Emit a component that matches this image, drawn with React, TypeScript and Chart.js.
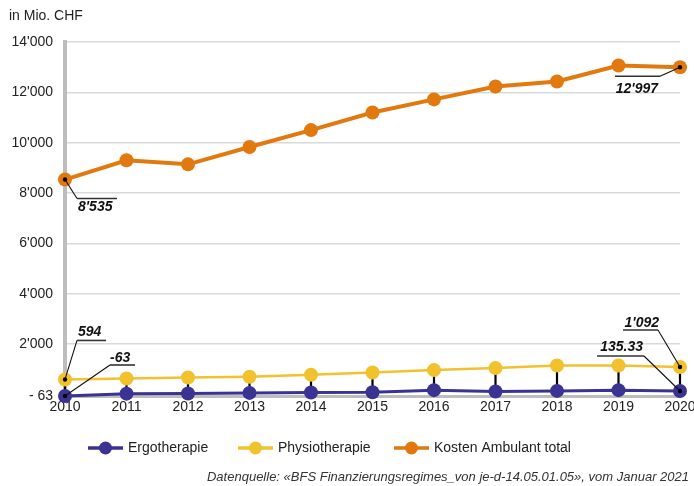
import React, { useEffect, useRef } from "react";
import { Chart, registerables } from "chart.js";

Chart.register(...registerables);

const years = ["2010", "2011", "2012", "2013", "2014", "2015", "2016", "2017", "2018", "2019", "2020"];
const ergo = [-63, 30, 35, 60, 75, 85, 170, 115, 140, 170, 135.33];
const physio = [594, 630, 670, 700, 780, 870, 965, 1045, 1150, 1150, 1092];
const kosten = [8535, 9300, 9140, 9830, 10500, 11200, 11720, 12230, 12430, 13065, 12997];
const yTicks = [-63, 2000, 4000, 6000, 8000, 10000, 12000, 14000];
const seriesNames = ["Ergotherapie", "Physiotherapie", "Kosten Ambulant total"];
const unitLabel = "in Mio. CHF";
const sourceNote = "Datenquelle: «BFS Finanzierungsregimes_von je-d-14.05.01.05», vom Januar 2021";

const COLORS = ["#3b3393", "#f2c12e", "#e2790f"];
const FONT = "'Liberation Sans', Arial, sans-serif";

function fmt(v: number): string {
  if (!Number.isInteger(v)) return v.toFixed(2);
  const s = Math.abs(v).toString().replace(/\B(?=(\d{3})+(?!\d))/g, "'");
  return (v < 0 ? "-" : "") + s;
}

const labelDefs = [
  { ds: 2, i: 0, ex: 12, ey: 19, hx: 52, tx: 13, ty: 28, align: "left" },
  { ds: 2, i: 10, ex: -20, ey: 9, hx: -65, tx: -22, ty: 22, align: "right" },
  { ds: 1, i: 0, ex: 12, ey: -39, hx: 41, tx: 13, ty: -47, align: "left" },
  { ds: 0, i: 0, ex: 45, ey: -31, hx: 70, tx: 45, ty: -38, align: "left" },
  { ds: 1, i: 10, ex: -22, ey: -37, hx: -57, tx: -21, ty: -44, align: "right" },
  { ds: 0, i: 10, ex: -36, ey: -35, hx: -83, tx: -37, ty: -44, align: "right" },
];

const hiLoPlugin = {
  id: "hiLo",
  beforeDatasetsDraw(chart: any) {
    const ctx = chart.ctx;
    const a = chart.getDatasetMeta(0).data;
    const b = chart.getDatasetMeta(1).data;
    ctx.save();
    ctx.strokeStyle = "#000";
    ctx.lineWidth = 2.2;
    for (let k = 0; k < a.length; k++) {
      ctx.beginPath();
      ctx.moveTo(a[k].x, a[k].y);
      ctx.lineTo(b[k].x, b[k].y);
      ctx.stroke();
    }
    ctx.restore();
  },
};

const labelPlugin = {
  id: "leaderLabels",
  afterDatasetsDraw(chart: any) {
    const ctx = chart.ctx;
    ctx.save();
    for (const d of labelDefs) {
      const pt = chart.getDatasetMeta(d.ds).data[d.i];
      const v = chart.data.datasets[d.ds].data[d.i];
      const px = pt.x, py = pt.y;
      ctx.fillStyle = "#000";
      ctx.beginPath();
      ctx.arc(px, py, 2.2, 0, Math.PI * 2);
      ctx.fill();
      ctx.strokeStyle = "#111";
      ctx.lineWidth = 1.1;
      ctx.beginPath();
      ctx.moveTo(px, py);
      ctx.lineTo(px + d.ex, py + d.ey);
      ctx.stroke();
      ctx.strokeStyle = "#333";
      ctx.lineWidth = 1.6;
      ctx.beginPath();
      ctx.moveTo(px + d.ex, py + d.ey);
      ctx.lineTo(px + d.hx, py + d.ey);
      ctx.stroke();
      ctx.fillStyle = "#111";
      ctx.font = `italic bold 14px ${FONT}`;
      ctx.textAlign = d.align as CanvasTextAlign;
      ctx.textBaseline = "middle";
      ctx.fillText(fmt(v), px + d.tx, py + d.ty);
    }
    ctx.restore();
  },
};

const decorPlugin = {
  id: "decor",
  afterDraw(chart: any) {
    const ctx = chart.ctx;
    ctx.save();
    ctx.fillStyle = "#222";
    ctx.font = `14px ${FONT}`;
    ctx.textAlign = "left";
    ctx.textBaseline = "middle";
    ctx.fillText(unitLabel, 9, 16);

    const xs = [88, 238, 394];
    const ly = 448;
    for (let k = 0; k < 3; k++) {
      const x0 = xs[k];
      ctx.strokeStyle = COLORS[k];
      ctx.lineWidth = 3.5;
      ctx.beginPath();
      ctx.moveTo(x0, ly);
      ctx.lineTo(x0 + 35, ly);
      ctx.stroke();
      ctx.fillStyle = COLORS[k];
      ctx.beginPath();
      ctx.arc(x0 + 17.5, ly, 6.5, 0, Math.PI * 2);
      ctx.fill();
      ctx.fillStyle = "#222";
      ctx.font = `14px ${FONT}`;
      ctx.fillText(seriesNames[k], x0 + 40, ly);
    }

    ctx.font = `italic 13px ${FONT}`;
    ctx.textAlign = "right";
    ctx.fillStyle = "#333";
    ctx.fillText(sourceNote, 689, 477);
    ctx.restore();
  },
};

export default function App() {
  const ref = useRef<HTMLCanvasElement | null>(null);
  useEffect(() => {
    if (!ref.current) return;
    const mk = (k: number, data: number[], bw: number) => ({
      label: seriesNames[k],
      data,
      borderColor: COLORS[k],
      backgroundColor: COLORS[k],
      pointBackgroundColor: COLORS[k],
      pointBorderWidth: 0,
      pointRadius: 7,
      pointHoverRadius: 7,
      borderWidth: bw,
      tension: 0,
      clip: false as any,
    });
    const chart = new Chart(ref.current, {
      type: "line",
      data: {
        labels: years,
        datasets: [mk(0, ergo, 3), mk(1, physio, 2.5), mk(2, kosten, 4)],
      },
      options: {
        animation: false,
        responsive: false,
        devicePixelRatio: 1,
        layout: { padding: { top: 42, right: 14, left: 0, bottom: 0 } },
        plugins: { legend: { display: false }, tooltip: { enabled: false } },
        scales: {
          x: {
            type: "category",
            offset: false,
            grid: { display: false, drawTicks: false },
            border: { display: true, color: "#bdbdbd", width: 3 },
            ticks: { color: "#222", font: { family: FONT, size: 14 }, padding: 3, maxRotation: 0, autoSkip: false },
            afterFit(scale: any) {
              scale.height = 90;
              scale.paddingLeft = 0;
              scale.paddingRight = 0;
            },
          },
          y: {
            min: -63,
            max: 14000,
            afterBuildTicks(scale: any) {
              scale.ticks = yTicks.map((v) => ({ value: v }));
            },
            afterFit(scale: any) {
              scale.width = 65;
              scale.paddingTop = 0;
              scale.paddingBottom = 0;
            },
            grid: {
              drawTicks: false,
              color: (c: any) => (c.tick && c.tick.value === -63 ? "rgba(0,0,0,0)" : "#d9d9d9"),
              lineWidth: 1.5,
            },
            border: { display: true, color: "#bdbdbd", width: 4 },
            ticks: {
              color: "#222",
              font: { family: FONT, size: 14 },
              padding: 12,
              callback: (v: any) => (v === -63 ? "- 63" : fmt(Number(v))),
            },
          },
        },
      },
      plugins: [hiLoPlugin, labelPlugin, decorPlugin],
    });
    return () => chart.destroy();
  }, []);
  return (
    <div style={{ position: "absolute", left: 0, top: 0, width: 694, height: 486, background: "#fff" }}>
      <canvas ref={ref} width={694} height={486} style={{ width: 694, height: 486 }} />
    </div>
  );
}
